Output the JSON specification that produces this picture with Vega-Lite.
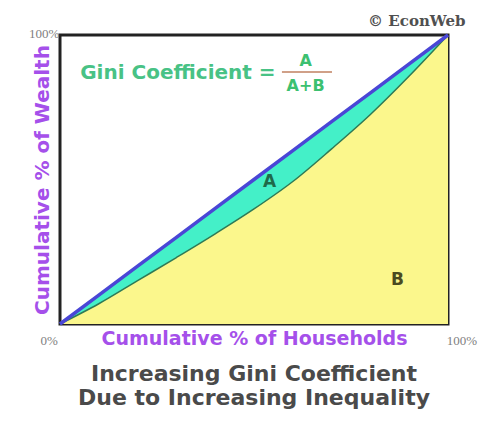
{
  "$schema": "https://vega.github.io/schema/vega-lite/v6.json",
  "width": 388,
  "height": 289,
  "autosize": {"type": "none"},
  "padding": {"left": 60, "top": 35, "right": 35, "bottom": 97},
  "background": "white",
  "config": {
    "view": {"stroke": "#222222", "strokeWidth": 3},
    "font": "DejaVu Sans"
  },
  "title": {
    "text": ["Increasing Gini Coefficient", "Due to Increasing Inequality"],
    "orient": "bottom",
    "anchor": "middle",
    "fontSize": 22,
    "fontWeight": "bold",
    "color": "#4a4a4a",
    "lineHeight": 24,
    "offset": 16,
    "font": "DejaVu Sans"
  },
  "datasets": {
    "curve": [
      {"x": 0, "lorenz": 0, "equal": 0},
      {"x": 0.1, "lorenz": 0.07, "equal": 0.1},
      {"x": 0.2, "lorenz": 0.15, "equal": 0.2},
      {"x": 0.3, "lorenz": 0.23, "equal": 0.3},
      {"x": 0.4, "lorenz": 0.312, "equal": 0.4},
      {"x": 0.5, "lorenz": 0.398, "equal": 0.5},
      {"x": 0.6, "lorenz": 0.493, "equal": 0.6},
      {"x": 0.7, "lorenz": 0.606, "equal": 0.7},
      {"x": 0.8, "lorenz": 0.725, "equal": 0.8},
      {"x": 0.9, "lorenz": 0.858, "equal": 0.9},
      {"x": 1, "lorenz": 1, "equal": 1}
    ],
    "labels": [
      {"x": -0.041, "y": 1.005, "t": "100%"},
      {"x": -0.028, "y": -0.06, "t": "0%"},
      {"x": 1.036, "y": -0.06, "t": "100%"}
    ]
  },
  "layer": [
    {
      "data": {"name": "curve"},
      "mark": {"type": "area", "color": "#fbf78c", "interpolate": "monotone"},
      "encoding": {
        "x": {"field": "x", "type": "quantitative", "scale": {"domain": [0, 1], "nice": false},
          "axis": {"labels": false, "ticks": false, "domain": false, "grid": false,
            "title": "Cumulative % of Households", "titleColor": "#a550ea", "titleFontSize": 19,
            "titleFontWeight": "bold", "titlePadding": 5}},
        "y": {"field": "lorenz", "type": "quantitative", "scale": {"domain": [0, 1], "nice": false},
          "axis": {"labels": false, "ticks": false, "domain": false, "grid": false,
            "title": "Cumulative % of Wealth", "titleColor": "#a550ea", "titleFontSize": 20,
            "titleFontWeight": "bold", "titlePadding": 8}},
        "y2": {"datum": 0}
      }
    },
    {
      "data": {"name": "curve"},
      "mark": {"type": "area", "color": "#44f0c8", "interpolate": "monotone"},
      "encoding": {
        "x": {"field": "x", "type": "quantitative"},
        "y": {"field": "equal", "type": "quantitative"},
        "y2": {"field": "lorenz"}
      }
    },
    {
      "data": {"name": "curve"},
      "mark": {"type": "line", "color": "#2f7a55", "strokeWidth": 1.5, "interpolate": "monotone"},
      "encoding": {
        "x": {"field": "x", "type": "quantitative"},
        "y": {"field": "lorenz", "type": "quantitative"}
      }
    },
    {
      "data": {"name": "curve"},
      "mark": {"type": "line", "color": "#4a46d6", "strokeWidth": 3.5},
      "encoding": {
        "x": {"field": "x", "type": "quantitative"},
        "y": {"field": "equal", "type": "quantitative"}
      }
    },
    {
      "data": {"name": "labels"},
      "mark": {"type": "text", "color": "#808080", "fontSize": 13, "clip": false, "font": "Liberation Sans Narrow"},
      "encoding": {
        "x": {"field": "x", "type": "quantitative"},
        "y": {"field": "y", "type": "quantitative"},
        "text": {"field": "t"}
      }
    },
    {
      "data": {"values": [{"x": 0.052, "y": 0.868, "t": "Gini Coefficient ="}]},
      "mark": {"type": "text", "color": "#48c285", "fontSize": 20, "fontWeight": "bold", "align": "left", "baseline": "middle"},
      "encoding": {
        "x": {"field": "x", "type": "quantitative"},
        "y": {"field": "y", "type": "quantitative"},
        "text": {"field": "t"}
      }
    },
    {
      "data": {"values": [{"x": 0.633, "y": 0.91, "t": "A"}, {"x": 0.633, "y": 0.822, "t": "A+B"}]},
      "mark": {"type": "text", "color": "#3cc070", "fontSize": 16, "fontWeight": "bold", "baseline": "middle"},
      "encoding": {
        "x": {"field": "x", "type": "quantitative"},
        "y": {"field": "y", "type": "quantitative"},
        "text": {"field": "t"}
      }
    },
    {
      "data": {"values": [{"x": 0.572, "x2": 0.701, "y": 0.872}]},
      "mark": {"type": "rule", "color": "#c08060", "strokeWidth": 1.5},
      "encoding": {
        "x": {"field": "x", "type": "quantitative"},
        "x2": {"field": "x2"},
        "y": {"field": "y", "type": "quantitative"}
      }
    },
    {
      "data": {"values": [{"x": 0.54, "y": 0.49, "t": "A"}]},
      "mark": {"type": "text", "color": "#1f6a4a", "fontSize": 17, "fontWeight": "bold", "baseline": "middle"},
      "encoding": {
        "x": {"field": "x", "type": "quantitative"},
        "y": {"field": "y", "type": "quantitative"},
        "text": {"field": "t"}
      }
    },
    {
      "data": {"values": [{"x": 0.87, "y": 0.152, "t": "B"}]},
      "mark": {"type": "text", "color": "#4a4a20", "fontSize": 17, "fontWeight": "bold", "baseline": "middle"},
      "encoding": {
        "x": {"field": "x", "type": "quantitative"},
        "y": {"field": "y", "type": "quantitative"},
        "text": {"field": "t"}
      }
    },
    {
      "data": {"values": [{"x": 1.045, "y": 1.05, "t": "© EconWeb"}]},
      "mark": {"type": "text", "color": "#505050", "fontSize": 15, "fontWeight": "bold", "align": "right", "baseline": "middle", "clip": false, "font": "DejaVu Serif"},
      "encoding": {
        "x": {"field": "x", "type": "quantitative"},
        "y": {"field": "y", "type": "quantitative"},
        "text": {"field": "t"}
      }
    }
  ]
}
